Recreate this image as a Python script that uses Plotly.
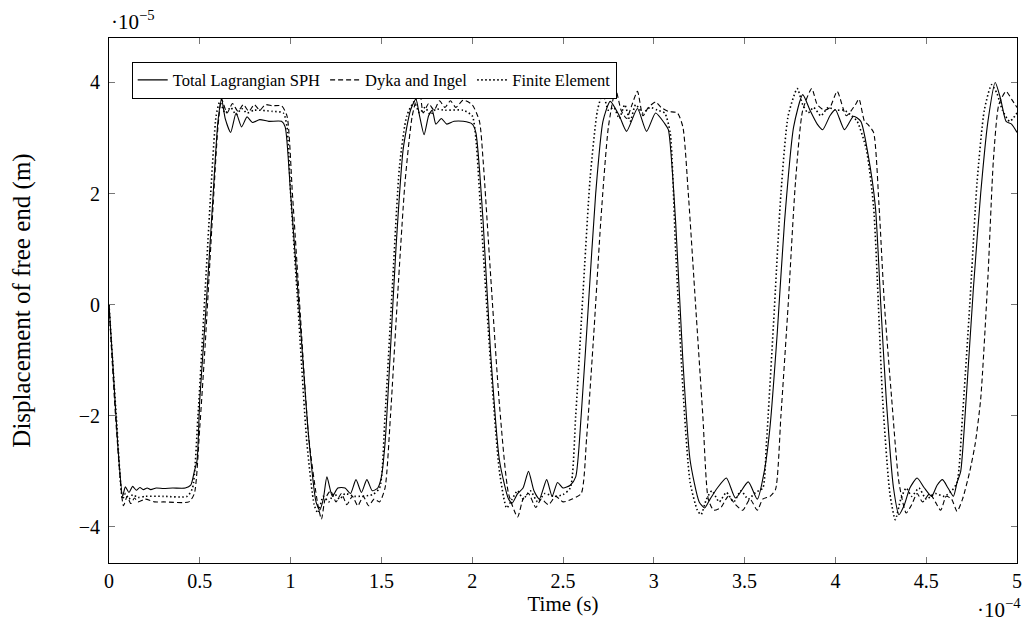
import plotly.graph_objects as go

# Time in units of 1e-4 s, displacement in units of 1e-5 m
sph_t = [0, 0.02, 0.05, 0.075, 0.09, 0.11, 0.13, 0.15, 0.17, 0.19, 0.21, 0.23, 0.26, 0.3, 0.35, 0.42, 0.45, 0.47,
         0.485, 0.5, 0.53, 0.57, 0.6, 0.62, 0.64, 0.67, 0.7, 0.73, 0.76, 0.79, 0.83, 0.88, 0.95, 0.97,
         1.0, 1.05, 1.1, 1.14, 1.16, 1.18, 1.2, 1.23, 1.26, 1.3, 1.33, 1.36, 1.39, 1.42, 1.45, 1.48, 1.5,
         1.52, 1.55, 1.58, 1.62, 1.66, 1.69, 1.71, 1.735, 1.76, 1.78, 1.8, 1.83, 1.86, 1.9, 1.95, 2.0, 2.02,
         2.06, 2.1, 2.15, 2.2, 2.22, 2.25, 2.28, 2.31, 2.34, 2.37, 2.41, 2.44, 2.47, 2.5, 2.54, 2.57,
         2.6, 2.64, 2.68, 2.72, 2.76, 2.81, 2.85, 2.91, 2.96, 3.01, 3.06, 3.08,
         3.12, 3.16, 3.2, 3.25, 3.28, 3.31, 3.35, 3.4, 3.45, 3.52, 3.57, 3.61,
         3.64, 3.68, 3.72, 3.77, 3.82, 3.86, 3.9, 3.93, 3.97, 4.0, 4.05, 4.1, 4.14,
         4.18, 4.22, 4.25, 4.28, 4.32, 4.35, 4.38, 4.41, 4.45, 4.49, 4.53, 4.56, 4.59, 4.62, 4.65, 4.67,
         4.69, 4.72, 4.76, 4.8, 4.84, 4.88, 4.91, 4.94, 4.97, 5.0]
sph_y = [0, -1.0, -2.6, -3.45, -3.28, -3.38, -3.27, -3.34, -3.29, -3.33, -3.3, -3.33, -3.3, -3.31, -3.3, -3.3, -3.25, -3.0,
         -2.8, -1.7, -0.27, 1.8, 3.3, 3.7, 3.35, 3.1, 3.45, 3.2, 3.38, 3.28, 3.33, 3.3, 3.3, 3.2,
         2.0, -0.2, -2.4, -3.55, -3.7, -3.5, -3.1, -3.45, -3.3, -3.3, -3.4, -3.15, -3.38, -3.15, -3.35, -3.3, -3.1,
         -2.5, -0.8, 1.0, 2.8, 3.5, 3.7, 3.4, 3.06, 3.4, 3.5, 3.25, 3.35, 3.25, 3.3, 3.3, 3.25, 3.1,
         1.5, -0.8, -2.8, -3.5, -3.57, -3.4, -3.3, -3.0, -3.35, -3.5, -3.15, -3.45, -3.2, -3.3, -3.25, -3.1,
         -2.0, 0.0, 2.0, 3.3, 3.66, 3.4, 3.12, 3.53, 3.12, 3.45, 3.26, 3.15,
         1.5, -1.0, -2.8, -3.55, -3.66, -3.5, -3.3, -3.12, -3.48, -3.19, -3.5, -2.97,
         -2.2, -0.5, 1.5, 3.2, 3.78, 3.5, 3.25, 3.15, 3.4, 3.51, 3.15, 3.39, 3.3,
         2.7, 1.77, 0.0, -1.7, -3.3, -3.78, -3.6, -3.3, -3.12, -3.3, -3.45, -3.25, -3.15, -3.3, -3.45, -3.2,
         -3.0, -1.7, 0.3, 2.0, 3.3, 4.0, 3.7, 3.3, 3.25, 3.1]

dyka_t = [0, 0.04, 0.08, 0.1, 0.12, 0.14, 0.16, 0.2, 0.25, 0.3, 0.44, 0.47,
          0.5, 0.53, 0.57, 0.6, 0.62, 0.65, 0.68, 0.71, 0.74, 0.77, 0.8, 0.83, 0.86, 0.9, 0.95, 0.98,
          1.01, 1.05, 1.1, 1.15, 1.17, 1.19, 1.22, 1.25, 1.28, 1.31, 1.34, 1.37, 1.4, 1.43, 1.46, 1.49, 1.52,
          1.55, 1.59, 1.63, 1.67, 1.71, 1.73, 1.76, 1.79, 1.82, 1.85, 1.88, 1.91, 1.95, 2.0, 2.04,
          2.06, 2.1, 2.15, 2.2, 2.25, 2.28, 2.31, 2.35, 2.38, 2.42, 2.46, 2.5, 2.55, 2.6,
          2.63, 2.67, 2.71, 2.75, 2.79, 2.82, 2.85, 2.88, 2.91, 2.94, 2.97, 3.01, 3.04, 3.08, 3.13, 3.16,
          3.19, 3.23, 3.27, 3.3, 3.33, 3.37, 3.41, 3.45, 3.49, 3.53, 3.57, 3.6, 3.64, 3.67,
          3.7, 3.74, 3.78, 3.82, 3.87, 3.9, 3.94, 3.97, 4.01, 4.06, 4.11, 4.13, 4.16, 4.18, 4.21,
          4.24, 4.27, 4.31, 4.35, 4.39, 4.42, 4.45, 4.48, 4.52, 4.55, 4.58, 4.61, 4.64, 4.67, 4.7, 4.74,
          4.77, 4.8, 4.84, 4.87, 4.9, 4.94, 4.97, 5.0]
dyka_y = [0, -2.2, -3.62, -3.45, -3.58, -3.48, -3.55, -3.5, -3.55, -3.55, -3.55, -3.4,
          -2.2, -0.7, 1.6, 3.2, 3.7, 3.45, 3.62, 3.48, 3.6, 3.48, 3.6, 3.5, 3.6, 3.58, 3.58, 3.4,
          2.0, 0.0, -2.4, -3.6, -3.86, -3.5, -3.35, -3.55, -3.4, -3.6, -3.45, -3.62, -3.45, -3.62, -3.5, -3.55, -3.3,
          -2.0, 0.2, 2.2, 3.4, 3.87, 3.45, 3.62, 3.5, 3.67, 3.55, 3.67, 3.55, 3.68, 3.6, 3.3,
          2.6, 0.6, -1.8, -3.4, -3.82, -3.5, -3.4, -3.65, -3.5, -3.6, -3.45, -3.55, -3.5, -3.4,
          -2.4, -0.5, 1.6, 3.2, 3.87, 3.5, 3.35, 3.6, 3.84, 3.4, 3.55, 3.65, 3.55, 3.48, 3.45, 3.2,
          2.0, 0.0, -2.0, -3.5, -3.7, -3.65, -3.45, -3.6, -3.7, -3.5, -3.7, -3.5, -3.45, -3.33,
          -2.0, 0.0, 2.2, 3.5, 3.89, 3.6, 3.5, 3.55, 3.84, 3.4, 3.6, 3.7, 3.3, 3.24, 3.1,
          1.8, 0.0, -1.7, -3.2, -3.75, -3.6, -3.4, -3.55, -3.4, -3.55, -3.7, -3.45, -3.5, -3.72, -3.5, -3.0,
          -2.5, -1.7, 0.5, 2.6, 3.6, 3.84, 3.7, 3.55]

fe_t = [0, 0.04, 0.075, 0.09, 0.11, 0.13, 0.16, 0.2, 0.3, 0.43, 0.46,
        0.49, 0.52, 0.56, 0.59, 0.61, 0.64, 0.67, 0.7, 0.73, 0.76, 0.8, 0.9, 0.96, 0.98,
        1.0, 1.04, 1.09, 1.13, 1.15, 1.18, 1.21, 1.24, 1.27, 1.3, 1.35, 1.45, 1.49,
        1.52, 1.56, 1.6, 1.64, 1.68, 1.71, 1.74, 1.77, 1.8, 1.85, 1.95, 2.0, 2.02,
        2.05, 2.1, 2.15, 2.19, 2.22, 2.25, 2.28, 2.32, 2.36, 2.4, 2.45, 2.5, 2.54,
        2.57, 2.61, 2.65, 2.69, 2.72, 2.75, 2.78, 2.81, 2.84, 2.87, 2.9, 2.94, 2.98, 3.02, 3.06, 3.09,
        3.12, 3.16, 3.2, 3.24, 3.26, 3.29, 3.32, 3.36, 3.4, 3.44, 3.48, 3.52, 3.56, 3.6,
        3.62, 3.66, 3.7, 3.74, 3.79, 3.82, 3.85, 3.88, 3.92, 3.96, 4.0, 4.05, 4.09, 4.12,
        4.17, 4.21, 4.26, 4.3, 4.33, 4.36, 4.39, 4.42, 4.46, 4.5, 4.55, 4.6, 4.64, 4.67,
        4.7, 4.74, 4.78, 4.82, 4.86, 4.89, 4.92, 4.96, 5.0]
fe_y = [0, -2.0, -3.5, -3.4, -3.5, -3.42, -3.47, -3.45, -3.45, -3.45, -3.3,
        -2.0, -0.3, 2.0, 3.4, 3.65, 3.45, 3.55, 3.42, 3.53, 3.45, 3.5, 3.48, 3.45, 3.2,
        2.0, 0.0, -2.5, -3.6, -3.75, -3.45, -3.55, -3.4, -3.5, -3.4, -3.45, -3.42, -3.3,
        -2.0, 0.3, 2.5, 3.4, 3.65, 3.45, 3.55, 3.42, 3.52, 3.5, 3.5, 3.4, 3.0,
        1.5, -1.0, -3.0, -3.66, -3.5, -3.35, -3.5, -3.35, -3.55, -3.4, -3.45, -3.42, -3.3,
        -2.0, 0.2, 2.3, 3.5, 3.81, 3.5, 3.55, 3.35, 3.6, 3.3, 3.6, 3.45, 3.55, 3.5, 3.45, 3.1,
        1.0, -1.5, -3.2, -3.7, -3.78, -3.5, -3.35, -3.55, -3.38, -3.55, -3.35, -3.5, -3.38, -3.3,
        -2.5, -0.3, 2.0, 3.4, 3.89, 3.6, 3.45, 3.55, 3.4, 3.55, 3.5, 3.5, 3.4, 3.3,
        2.8, 1.77, -1.7, -3.4, -3.87, -3.5, -3.3, -3.45, -3.3, -3.5, -3.4, -3.45, -3.35, -3.2,
        -2.0, 0.0, 2.2, 3.5, 3.96, 3.8, 3.5, 3.3, 3.45]

x_ticks = [0, 0.5, 1, 1.5, 2, 2.5, 3, 3.5, 4, 4.5, 5]
x_ticktext = ["0", "0.5", "1", "1.5", "2", "2.5", "3", "3.5", "4", "4.5", "5"]
y_ticks = [-4, -2, 0, 2, 4]
y_ticktext = ["\u22124", "\u22122", "0", "2", "4"]

FONT = "Liberation Serif"

fig = go.Figure()
fig.add_trace(go.Scatter(x=sph_t, y=sph_y, mode="lines", name="Total Lagrangian SPH",
                         line=dict(color="black", width=1.1, shape="spline", smoothing=0.6)))
fig.add_trace(go.Scatter(x=dyka_t, y=dyka_y, mode="lines", name="Dyka and Ingel",
                         line=dict(color="black", width=1.1, dash="5px,3px", shape="spline", smoothing=0.6)))
fig.add_trace(go.Scatter(x=fe_t, y=fe_y, mode="lines", name="Finite Element",
                         line=dict(color="black", width=1.6, dash="1.5px,2.5px", shape="spline", smoothing=0.6)))

axis_common = dict(showline=True, linecolor="black", linewidth=1, mirror="ticks",
                   ticks="inside", ticklen=6, tickcolor="#777", tickwidth=1,
                   showgrid=False, zeroline=False, automargin=False,
                   tickfont=dict(family=FONT, size=20, color="black"))

fig.update_layout(
    width=1026, height=634,
    margin=dict(l=109, r=9, t=38, b=71, autoexpand=False),
    paper_bgcolor="white", plot_bgcolor="white",
    font=dict(family=FONT, size=17, color="black"),
    xaxis=dict(range=[0, 5], tickvals=x_ticks, ticktext=x_ticktext,
               title=dict(text="Time (s)", font=dict(family=FONT, size=21), standoff=0),
               **axis_common),
    yaxis=dict(range=[-4.65, 4.8], tickvals=y_ticks, ticktext=y_ticktext,
               ticklabelstandoff=4,
               title=dict(text="Displacement of free end (m)", font=dict(family=FONT, size=25), standoff=40),
               **axis_common),
    legend=dict(orientation="h", x=0.025, y=0.955, xanchor="left", yanchor="top",
                bordercolor="black", borderwidth=1, bgcolor="white",
                font=dict(family=FONT, size=16.5), tracegroupgap=0, itemwidth=30),
    showlegend=True,
)

fig.add_annotation(text="\u00b710<sup>\u22125</sup>", xref="paper", yref="paper",
                   x=0, y=1, xanchor="left", yanchor="bottom", yshift=2, showarrow=False,
                   font=dict(family=FONT, size=21))
fig.add_annotation(text="\u00b710<sup>\u22124</sup>", xref="paper", yref="paper",
                   x=1, y=0, xanchor="right", yanchor="top", yshift=-30, xshift=6, showarrow=False,
                   font=dict(family=FONT, size=21))

fig.write_html("out.html", config={"displayModeBar": False},
               post_script="document.body.style.margin='0';")
